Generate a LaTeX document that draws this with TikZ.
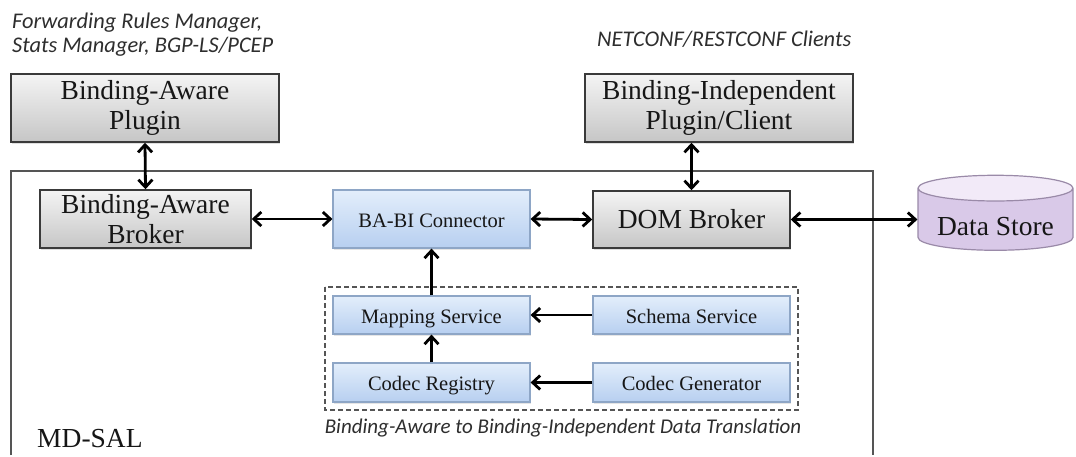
\documentclass[tikz,border=0pt]{standalone}
\usepackage{fontspec}
\setmainfont{Liberation Serif}
\newfontfamily\notefont{Carlito}
\usetikzlibrary{arrows.meta,shapes.geometric,shadows}

\definecolor{grayTop}{HTML}{F4F4F4}
\definecolor{grayBot}{HTML}{C6C6C6}
\definecolor{grayEdge}{HTML}{3A3A3A}
\definecolor{blueTop}{HTML}{E3EEFB}
\definecolor{blueBot}{HTML}{B7CFF0}
\definecolor{blueEdge}{HTML}{8EA6C6}
\definecolor{lilacTop}{HTML}{F2EAF8}
\definecolor{lilacBot}{HTML}{D3C1E4}
\definecolor{lilacEdge}{HTML}{9A8AA8}
\definecolor{frameEdge}{HTML}{555555}
\definecolor{noteText}{HTML}{2E2E2E}
\definecolor{textDark}{HTML}{161616}

\tikzset{
  bigtext/.style={font=\fontsize{27.5}{30}\selectfont, text=textDark},
  smalltext/.style={font=\fontsize{20.5}{24}\selectfont, text=textDark},
  graybox/.style={rectangle, draw=grayEdge, line width=1.5pt,
    top color=grayTop, bottom color=grayBot, inner sep=0pt, align=center,
    drop shadow={opacity=0.25, shadow xshift=1.2pt, shadow yshift=-1.5pt}, bigtext},
  bluebox/.style={rectangle, draw=blueEdge, line width=1.2pt,
    top color=blueTop, bottom color=blueBot, inner sep=0pt, align=center,
    minimum width=197pt, text height=18pt, text depth=2pt,
    drop shadow={opacity=0.2, shadow xshift=1.2pt, shadow yshift=-1.5pt}, smalltext},
  note/.style={font=\notefont\itshape\fontsize{22.4}{24}\selectfont, text=noteText, align=left},
  capnote/.style={font=\notefont\itshape\fontsize{21}{24}\selectfont, text=noteText},
  link/.style={line width=2.8pt, black, {Straight Barb[length=7.5pt,width=14pt]}-{Straight Barb[length=7.5pt,width=14pt]}},
  onelink/.style={line width=2.8pt, black, -{Straight Barb[length=7.5pt,width=14pt]}},
}

\begin{document}
\begin{tikzpicture}[x=1pt,y=-1pt]
  \useasboundingbox (0,0) rectangle (1076,456);
  \fill[white] (0,0) rectangle (1076,456);

  % MD-SAL frame
  \draw[frameEdge, line width=1.5pt] (11,455) -- (11,171) -- (873,171) -- (873,455);
  \node[bigtext, anchor=base west, inner sep=0pt] (mdsal) at (37,447) {MD-SAL};

  % data translation group
  \draw[frameEdge, line width=1.8pt, dash pattern=on 5pt off 3pt] (325,287) rectangle (798,410);
  \node[capnote, anchor=base, inner sep=0pt] (transl) at (563,433) {Binding-Aware to Binding-Independent Data Translation};

  % client notes
  \node[note, anchor=base west, inner sep=0pt] (bacl) at (12,52)
    {Forwarding Rules Manager,\\Stats Manager, BGP-LS/PCEP};
  \node[note, anchor=base west, inner sep=0pt] (bicl) at (597,46) {NETCONF/RESTCONF Clients};

  % plugins
  \node[graybox, minimum width=268pt, minimum height=68pt] (bap) at (145,108) {Binding-Aware\\Plugin};
  \node[graybox, minimum width=268pt, minimum height=68pt] (bip) at (719,108) {Binding-Independent\\Plugin/Client};

  % brokers and connector
  \node[graybox, minimum width=211pt, minimum height=58pt] (bab) at (145.5,219) {Binding-Aware\\Broker};
  \node[bluebox, minimum height=58pt] (babi) at (431.5,219) {BA-BI Connector};
  \node[graybox, minimum width=197pt, minimum height=57pt] (dom) at (691.5,219.5) {\raisebox{-2pt}{DOM Broker}};

  % translation services
  \node[bluebox, minimum height=38pt] (ms) at (431.5,315) {Mapping Service};
  \node[bluebox, minimum height=38pt] (ss) at (691.5,315) {Schema Service};
  \node[bluebox, minimum height=39pt] (cr) at (431.5,382.5) {Codec Registry};
  \node[bluebox, minimum height=39pt] (cg) at (691.5,382.5) {Codec Generator};

  % data store
  \node[cylinder, shape border rotate=90, aspect=0.22, draw=lilacEdge, line width=1.2pt,
    cylinder uses custom fill, cylinder body fill=lilacBot!80!lilacTop, cylinder end fill=lilacTop,
    minimum width=155pt, minimum height=75pt, inner sep=0pt, bigtext] (ds) at (995.5,219.5)
    {\raisebox{-16pt}[0pt][0pt]{Data Store}};

  % connectors
  \draw[link] (bap.south) -- (bab.north);
  \draw[link] (bab.east) -- (babi.west);
  \draw[link] (babi.east) -- (dom.west);
  \draw[link] (dom.north |- bip.south) -- (dom.north);
  \draw[link] (dom.east) -- (ds.west);
  \draw[onelink] (ms.north) -- (babi.south);
  \draw[onelink] (cr.north) -- (ms.south);
  \draw[onelink] (ss.west) -- (ms.east);
  \draw[onelink] (cg.west) -- (cr.east);
\end{tikzpicture}
\end{document}
